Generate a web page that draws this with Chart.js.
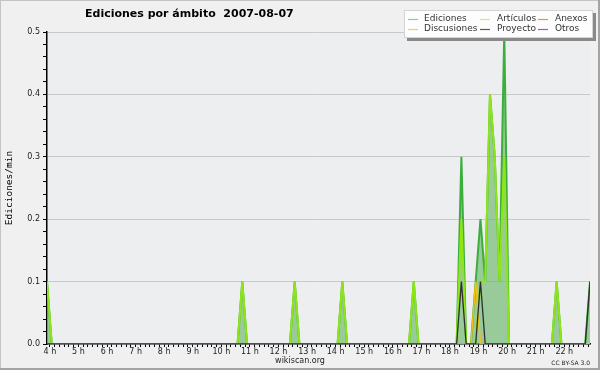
<!DOCTYPE html>
<html><head><meta charset="utf-8">
<script src="https://cdn.jsdelivr.net/npm/chart.js@4.4.0/dist/chart.umd.min.js"></script>
<style>html,body{margin:0;padding:0;background:#f0f0f0;}canvas{display:block;}</style>
</head><body>
<canvas id="c" width="600" height="370"></canvas>
<script>
const chartTitle = 'Ediciones por ámbito  2007-08-07';
const yAxisTitle = 'Ediciones/min';
const footerSite = 'wikiscan.org';
const footerLicense = 'CC BY-SA 3.0';

// sample times (minutes after midnight), 03:54 .. 22:54
const times = [
  234,244,254,264,274,284,294,304,314,324,
  334,344,354,364,374,384,394,404,414,424,
  434,444,454,464,474,484,494,504,514,524,
  534,544,554,564,574,584,594,604,614,624,
  634,644,654,664,674,684,694,704,714,724,
  734,744,754,764,774,784,794,804,814,824,
  834,844,854,864,874,884,894,904,914,924,
  934,944,954,964,974,984,994,1004,1014,1024,
  1034,1044,1054,1064,1074,1084,1094,1104,1114,1124,
  1134,1144,1154,1164,1174,1184,1194,1204,1214,1224,
  1234,1244,1254,1264,1274,1284,1294,1304,1314,1324,
  1334,1344,1354,1364,1374
];

const ediciones = [
  0.1,0,0,0,0,0,0,0,0,0,
  0,0,0,0,0,0,0,0,0,0,
  0,0,0,0,0,0,0,0,0,0,
  0,0,0,0,0,0,0,0,0,0,
  0,0.1,0,0,0,0,0,0,0,0,
  0,0,0.1,0,0,0,0,0,0,0,
  0,0,0.1,0,0,0,0,0,0,0,
  0,0,0,0,0,0,0,0.1,0,0,
  0,0,0,0,0,0,0,0.3,0,0,
  0.1,0.2,0.1,0.4,0.3,0.1,0.5,0,0,0,
  0,0,0,0,0,0,0,0.1,0,0,
  0,0,0,0,0.1
];
const articulos = [
  0.1,0,0,0,0,0,0,0,0,0,
  0,0,0,0,0,0,0,0,0,0,
  0,0,0,0,0,0,0,0,0,0,
  0,0,0,0,0,0,0,0,0,0,
  0,0.1,0,0,0,0,0,0,0,0,
  0,0,0.1,0,0,0,0,0,0,0,
  0,0,0.1,0,0,0,0,0,0,0,
  0,0,0,0,0,0,0,0.1,0,0,
  0,0,0,0,0,0,0,0.2,0,0,
  0,0.1,0.1,0.4,0.3,0.1,0.3,0,0,0,
  0,0,0,0,0,0,0,0.1,0,0,
  0,0,0,0,0
];
const anexos = [
  0,0,0,0,0,0,0,0,0,0, 0,0,0,0,0,0,0,0,0,0,
  0,0,0,0,0,0,0,0,0,0, 0,0,0,0,0,0,0,0,0,0,
  0,0,0,0,0,0,0,0,0,0, 0,0,0,0,0,0,0,0,0,0,
  0,0,0,0,0,0,0,0,0,0, 0,0,0,0,0,0,0,0,0,0,
  0,0,0,0,0,0,0,0,0,0, 0,0,0,0,0,0,0,0,0,0,
  0,0,0,0,0,0,0,0,0,0, 0,0,0,0,0
];
const discusiones = [
  0,0,0,0,0,0,0,0,0,0, 0,0,0,0,0,0,0,0,0,0,
  0,0,0,0,0,0,0,0,0,0, 0,0,0,0,0,0,0,0,0,0,
  0,0,0,0,0,0,0,0,0,0, 0,0,0,0,0,0,0,0,0,0,
  0,0,0,0,0,0,0,0,0,0, 0,0,0,0,0,0,0,0,0,0,
  0,0,0,0,0,0,0,0,0,0, 0.1,0,0,0,0,0,0,0,0,0,
  0,0,0,0,0,0,0,0,0,0, 0,0,0,0,0
];
const proyecto = [
  0,0,0,0,0,0,0,0,0,0, 0,0,0,0,0,0,0,0,0,0,
  0,0,0,0,0,0,0,0,0,0, 0,0,0,0,0,0,0,0,0,0,
  0,0,0,0,0,0,0,0,0,0, 0,0,0,0,0,0,0,0,0,0,
  0,0,0,0,0,0,0,0,0,0, 0,0,0,0,0,0,0,0,0,0,
  0,0,0,0,0,0,0,0.1,0,0, 0,0.1,0,0,0,0,0,0,0,0,
  0,0,0,0,0,0,0,0,0,0, 0,0,0,0,0.1
];
const otros = [
  0,0,0,0,0,0,0,0,0,0, 0,0,0,0,0,0,0,0,0,0,
  0,0,0,0,0,0,0,0,0,0, 0,0,0,0,0,0,0,0,0,0,
  0,0,0,0,0,0,0,0,0,0, 0,0,0,0,0,0,0,0,0,0,
  0,0,0,0,0,0,0,0,0,0, 0,0,0,0,0,0,0,0,0,0,
  0,0,0,0,0,0,0,0,0,0, 0,0,0,0,0,0,0,0,0,0,
  0,0,0,0,0,0,0,0,0,0, 0,0,0,0,0
];

const hourLabels = ['4 h','5 h','6 h','7 h','8 h','9 h','10 h','11 h','12 h','13 h','14 h','15 h','16 h','17 h','18 h','19 h','20 h','21 h','22 h'];
const yTickLabels = ['0.0','0.1','0.2','0.3','0.4','0.5'];

const pts = arr => times.map((t, i) => ({x: t, y: arr[i]}));

const base = {pointRadius: 0, tension: 0, fill: false, borderWidth: 1.5};
const datasets = [
  Object.assign({}, base, {label:'Ediciones', data: pts(ediciones), borderColor:'#3cae3c', borderWidth: 2, backgroundColor:'rgba(105,182,105,0.64)', fill:'origin', order:6, legendColor:'#85d285'}),
  Object.assign({}, base, {label:'Artículos', data: pts(articulos), borderColor:'#8ee614', borderWidth: 2, order:3, legendColor:'#cdef6e'}),
  Object.assign({}, base, {label:'Anexos', data: pts(anexos), borderColor:'#f08050', order:5, legendColor:'#f18a5e'}),
  Object.assign({}, base, {label:'Discusiones', data: pts(discusiones), borderColor:'#f2c010', order:2, legendColor:'#f6d24c'}),
  Object.assign({}, base, {label:'Proyecto', data: pts(proyecto), borderColor:'#2e2e2e', borderWidth:1.3, order:1, legendColor:'#5a5a5a'}),
  Object.assign({}, base, {label:'Otros', data: pts(otros), borderColor:'#9050e0', order:4, legendColor:'#9258e4'})
];

const decor = {
  id: 'decor',
  beforeDraw(chart) {
    const {ctx, chartArea: a} = chart;
    ctx.save();
    ctx.fillStyle = '#f0f0f0';
    ctx.fillRect(0, 0, chart.width, chart.height);
    ctx.fillStyle = '#edeef0';
    ctx.fillRect(a.left, a.top, a.right - a.left, a.bottom - a.top);
    ctx.restore();
  },
  afterDraw(chart) {
    const {ctx, chartArea: a} = chart;
    ctx.save();
    // frame
    ctx.strokeStyle = '#c4c4c4';
    ctx.lineWidth = 1;
    ctx.strokeRect(0.5, 0.5, chart.width - 1, chart.height - 1);
    ctx.fillStyle = '#a4a4a4';
    ctx.fillRect(chart.width - 2, 0, 2, chart.height);
    ctx.fillRect(0, chart.height - 2, chart.width, 2);
    // title
    ctx.fillStyle = '#000';
    ctx.font = 'bold 11px "DejaVu Sans"';
    ctx.textBaseline = 'middle';
    ctx.textAlign = 'left';
    ctx.fillText(chartTitle, 85, 14);
    // y title
    ctx.save();
    ctx.translate(10, (a.top + a.bottom) / 2);
    ctx.rotate(-Math.PI / 2);
    ctx.textAlign = 'center';
    ctx.font = '9.5px "DejaVu Sans Mono"';
    ctx.fillText(yAxisTitle, 0, 0);
    ctx.restore();
    // footer
    ctx.fillStyle = '#222';
    ctx.font = '8px "DejaVu Sans"';
    ctx.textAlign = 'center';
    ctx.fillText(footerSite, 300, 361);
    ctx.font = '6px "DejaVu Sans"';
    ctx.textAlign = 'right';
    ctx.fillText(footerLicense, 590, 363);
    // legend
    ctx.fillStyle = '#8a8a8a';
    ctx.fillRect(407, 13, 189, 28);
    ctx.fillStyle = '#fdfdfd';
    ctx.fillRect(404, 10, 189, 28);
    ctx.strokeStyle = '#d4d4d4';
    ctx.strokeRect(404.5, 10.5, 188, 27);
    const lineX = [408, 480, 538], textX = [424, 497, 555], rowY = [19, 29];
    ctx.font = '9px "DejaVu Sans"';
    ctx.textAlign = 'left';
    chart.data.datasets.forEach((ds, k) => {
      const r = Math.floor(k / 3), c = k % 3;
      ctx.strokeStyle = ds.legendColor;
      ctx.lineWidth = 1.2;
      ctx.beginPath();
      ctx.moveTo(lineX[c], rowY[r] + 0.5);
      ctx.lineTo(lineX[c] + 10, rowY[r] + 0.5);
      ctx.stroke();
      ctx.fillStyle = '#333';
      ctx.fillText(ds.label, textX[c], rowY[r]);
    });
    ctx.restore();
  }
};

new Chart(document.getElementById('c'), {
  type: 'line',
  data: {datasets},
  plugins: [decor],
  options: {
    responsive: false,
    animation: false,
    devicePixelRatio: 1,
    layout: {padding: {top: 32, right: 10, left: 0, bottom: 0}},
    plugins: {legend: {display: false}, tooltip: {enabled: false}, title: {display: false}},
    scales: {
      x: {
        type: 'linear', min: 234, max: 1374, z: 1,
        afterBuildTicks: s => {
          const t = [];
          for (let v = 240; v <= 1370; v += 10) t.push({value: v});
          s.ticks = t;
        },
        afterFit: s => { s.height = 26; },
        grid: {drawOnChartArea: false, drawTicks: true, tickLength: 3, tickColor: '#000', tickWidth: 1},
        border: {color: '#000', width: 1.5},
        ticks: {
          autoSkip: false, maxRotation: 0, minRotation: 0, padding: 0,
          color: '#222', font: {family: '"DejaVu Sans"', size: 8},
          callback: v => (v - 240) % 60 === 0 ? hourLabels[(v - 240) / 60] : ''
        }
      },
      y: {
        min: 0, max: 0.5,
        afterBuildTicks: s => {
          const t = [];
          for (let k = 0; k <= 25; k++) t.push({value: k / 50});
          s.ticks = t;
        },
        afterFit: s => { s.width = 47; },
        grid: {
          color: c => (c.tick && c.tick.value > 0 && Math.round(c.tick.value * 50) % 5 === 0) ? '#c9c9c9' : 'rgba(0,0,0,0)',
          tickColor: '#000', tickLength: 4, drawTicks: true, lineWidth: 1
        },
        border: {color: '#000', width: 1.5},
        ticks: {
          autoSkip: false, padding: 3,
          color: '#222', font: {family: '"DejaVu Sans"', size: 8},
          callback: v => { const k = Math.round(v * 50); return k % 5 === 0 ? yTickLabels[k / 5] : ''; }
        }
      }
    }
  }
});
</script>
</body></html>
